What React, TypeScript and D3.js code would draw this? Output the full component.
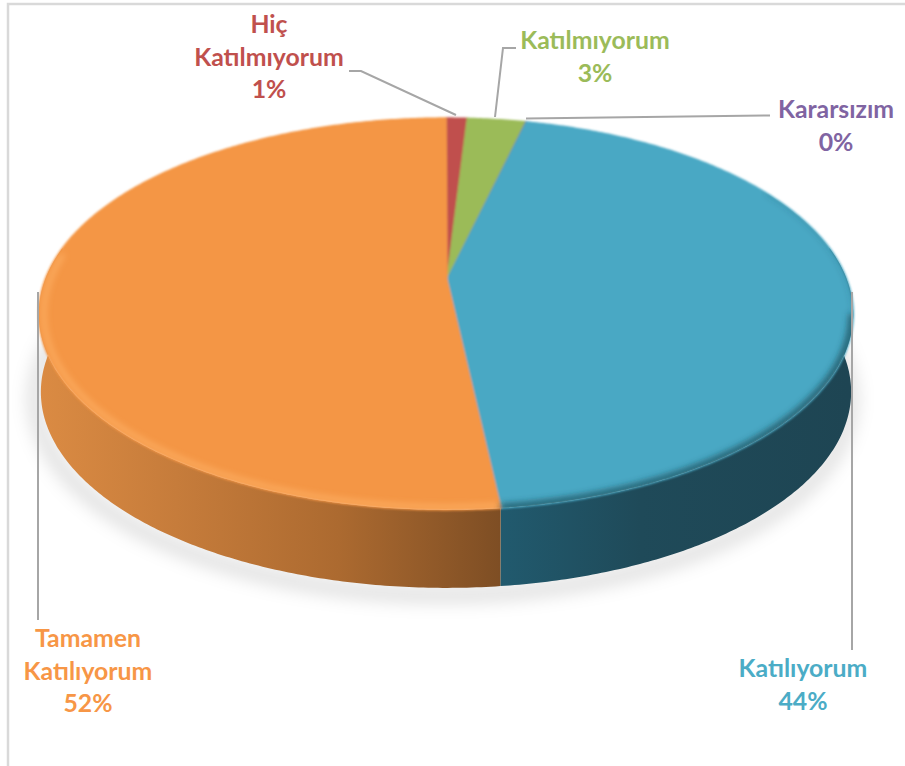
import React from "react";
import * as d3 from "d3";

const categories = ["Hiç Katılmıyorum", "Katılmıyorum", "Kararsızım", "Katılıyorum", "Tamamen Katılıyorum"];
const values = [1, 2.75, 0.02, 44.43, 51.8];
const colors = ["#C0504D", "#9BBB59", "#8064A2", "#4AA8C4", "#F49645"];
const textColors = ["#C0504D", "#9BBB59", "#8064A2", "#4BACC6", "#F79646"];
const labelLines = [["Hiç", "Katılmıyorum", "1%"], ["Katılmıyorum", "3%"], ["Kararsızım", "0%"], ["Katılıyorum", "44%"], ["Tamamen", "Katılıyorum", "52%"]];
const labelX = [269, 595, 836, 803, 88];
const labelY = [33, 49, 118, 677, 647];
const leaderLines = [
  [[349, 71], [361, 71], [456, 115]],
  [[516, 48], [503, 48], [495, 117]],
  [[526, 118.5], [770, 115.5]],
  [[852, 292], [852, 650]],
  [[38, 292], [38, 620]],
];

const AX = 446, AY = 280, R = 401, S = 190, K = 0.1735, DEPTH = 78;
const project = (t: number, inset = 0): [number, number] => {
  const w = 1 + K * Math.cos(t);
  return [AX + ((R - inset) * Math.sin(t)) / w, AY - ((S - inset * 0.49) * Math.cos(t)) / w];
};
const lowerPoint = (t: number): [number, number] => {
  const [x, y] = project(t);
  return [AX + (x - AX) * 0.995, y + DEPTH];
};
const steps = (a: number, b: number) => {
  const n = Math.max(2, Math.ceil(Math.abs(b - a) / 0.01));
  return d3.range(n + 1).map((i) => a + ((b - a) * i) / n);
};
const rad = (deg: number) => (deg * Math.PI) / 180;
const line = d3.line();
const arcs = d3.pie<number>().sort(null)(values);
const allAngles = steps(0, Math.PI * 2);
const WALL_A = rad(80), WALL_B = rad(280);

export default function App() {
  const wall = (s: { startAngle: number; endAngle: number }) => {
    const a = Math.max(s.startAngle, WALL_A), b = Math.min(s.endAngle, WALL_B);
    if (b <= a) return null;
    const ts = steps(a, b);
    return line([...ts.map((t) => project(t)), ...[...ts].reverse().map(lowerPoint)]) + "Z";
  };
  const face = (s: { startAngle: number; endAngle: number }) => {
    const ts = steps(s.startAngle, s.endAngle);
    return line([[AX + 1, AY], ...ts.map((t) => project(t))]) + "Z";
  };
  const edge = (a: number, b: number, inset: number) => line(steps(a, b).map((t) => project(t, inset))) ?? "";
  const outline = line(allAngles.map((t) => project(t))) + "Z";
  const blue = arcs[3], orange = arcs[4];
  const lowerRim = line(steps(WALL_A, WALL_B).map((t) => { const [x, y] = lowerPoint(t); return [AX + (x - AX) * 1.005 - 3, y + 7]; })) ?? "";
  return (
    <svg width={905} height={766} style={{ position: "absolute", left: 0, top: 0 }} fontFamily="Lato" fontWeight={700} fontSize={24.8}>
      <defs>
        <filter id="shadow" x="-10%" y="-10%" width="120%" height="130%"><feGaussianBlur stdDeviation="9" /></filter>
        <filter id="soft" x="-5%" y="-5%" width="110%" height="110%"><feGaussianBlur stdDeviation="1.2" /></filter>
        <filter id="bevel" x="-5%" y="-5%" width="110%" height="110%"><feGaussianBlur stdDeviation="3" /></filter>
        <clipPath id="wallClip"><path d={outline} /></clipPath>
        <linearGradient id="wallOrange" gradientUnits="userSpaceOnUse" x1={38} x2={500} y1={0} y2={0}>
          <stop offset="0" stopColor="#DB8B43" />
          <stop offset="0.3" stopColor="#C67C3B" />
          <stop offset="0.65" stopColor="#AC6A30" />
          <stop offset="1" stopColor="#7E4E24" />
        </linearGradient>
        <linearGradient id="wallBlue" gradientUnits="userSpaceOnUse" x1={500} x2={850} y1={0} y2={0}>
          <stop offset="0" stopColor="#215A6E" />
          <stop offset="0.4" stopColor="#1F4A59" />
          <stop offset="1" stopColor="#1E4553" />
        </linearGradient>
      </defs>
      <path d="M8 766V4H905" fill="none" stroke="#D9D9D9" strokeWidth={2.5} />
      <path d={lowerRim} fill="none" stroke="#000" strokeOpacity={0.16} strokeWidth={12} filter="url(#shadow)" />
      {arcs.map((s, i) => {
        const d = wall(s);
        if (!d) return null;
        return <path key={categories[i]} d={d} fill={i === 3 ? "url(#wallBlue)" : i === 4 ? "url(#wallOrange)" : colors[i]} />;
      })}
      <g filter="url(#soft)">
        {arcs.map((s, i) => (
          <path key={categories[i]} d={face(s)} fill={colors[i]} stroke={colors[i]} strokeWidth={1.5} />
        ))}
      </g>
      <g clipPath="url(#wallClip)">
        <path d={edge(orange.startAngle, rad(278), 5)} fill="none" stroke="#FFB469" strokeWidth={3.5} filter="url(#bevel)" />
        <path d={edge(rad(100), blue.endAngle, 1)} fill="none" stroke="#1E4553" strokeWidth={7} strokeOpacity={0.75} filter="url(#bevel)" />
        <path d={edge(rad(60), rad(100), -1)} fill="none" stroke="#1E4553" strokeWidth={3} strokeOpacity={0.3} filter="url(#bevel)" />
      </g>
      {leaderLines.map((pts, i) => (
        <path key={i} d={line(pts as [number, number][]) ?? ""} fill="none" stroke="#A6A6A6" strokeWidth={2} />
      ))}
      {labelLines.map((ls, i) => (
        <text key={i} textAnchor="middle" fill={textColors[i]}>
          {ls.map((t, j) => (
            <tspan key={j} x={labelX[i]} y={labelY[i] + j * 32.5}>{t}</tspan>
          ))}
        </text>
      ))}
    </svg>
  );
}
